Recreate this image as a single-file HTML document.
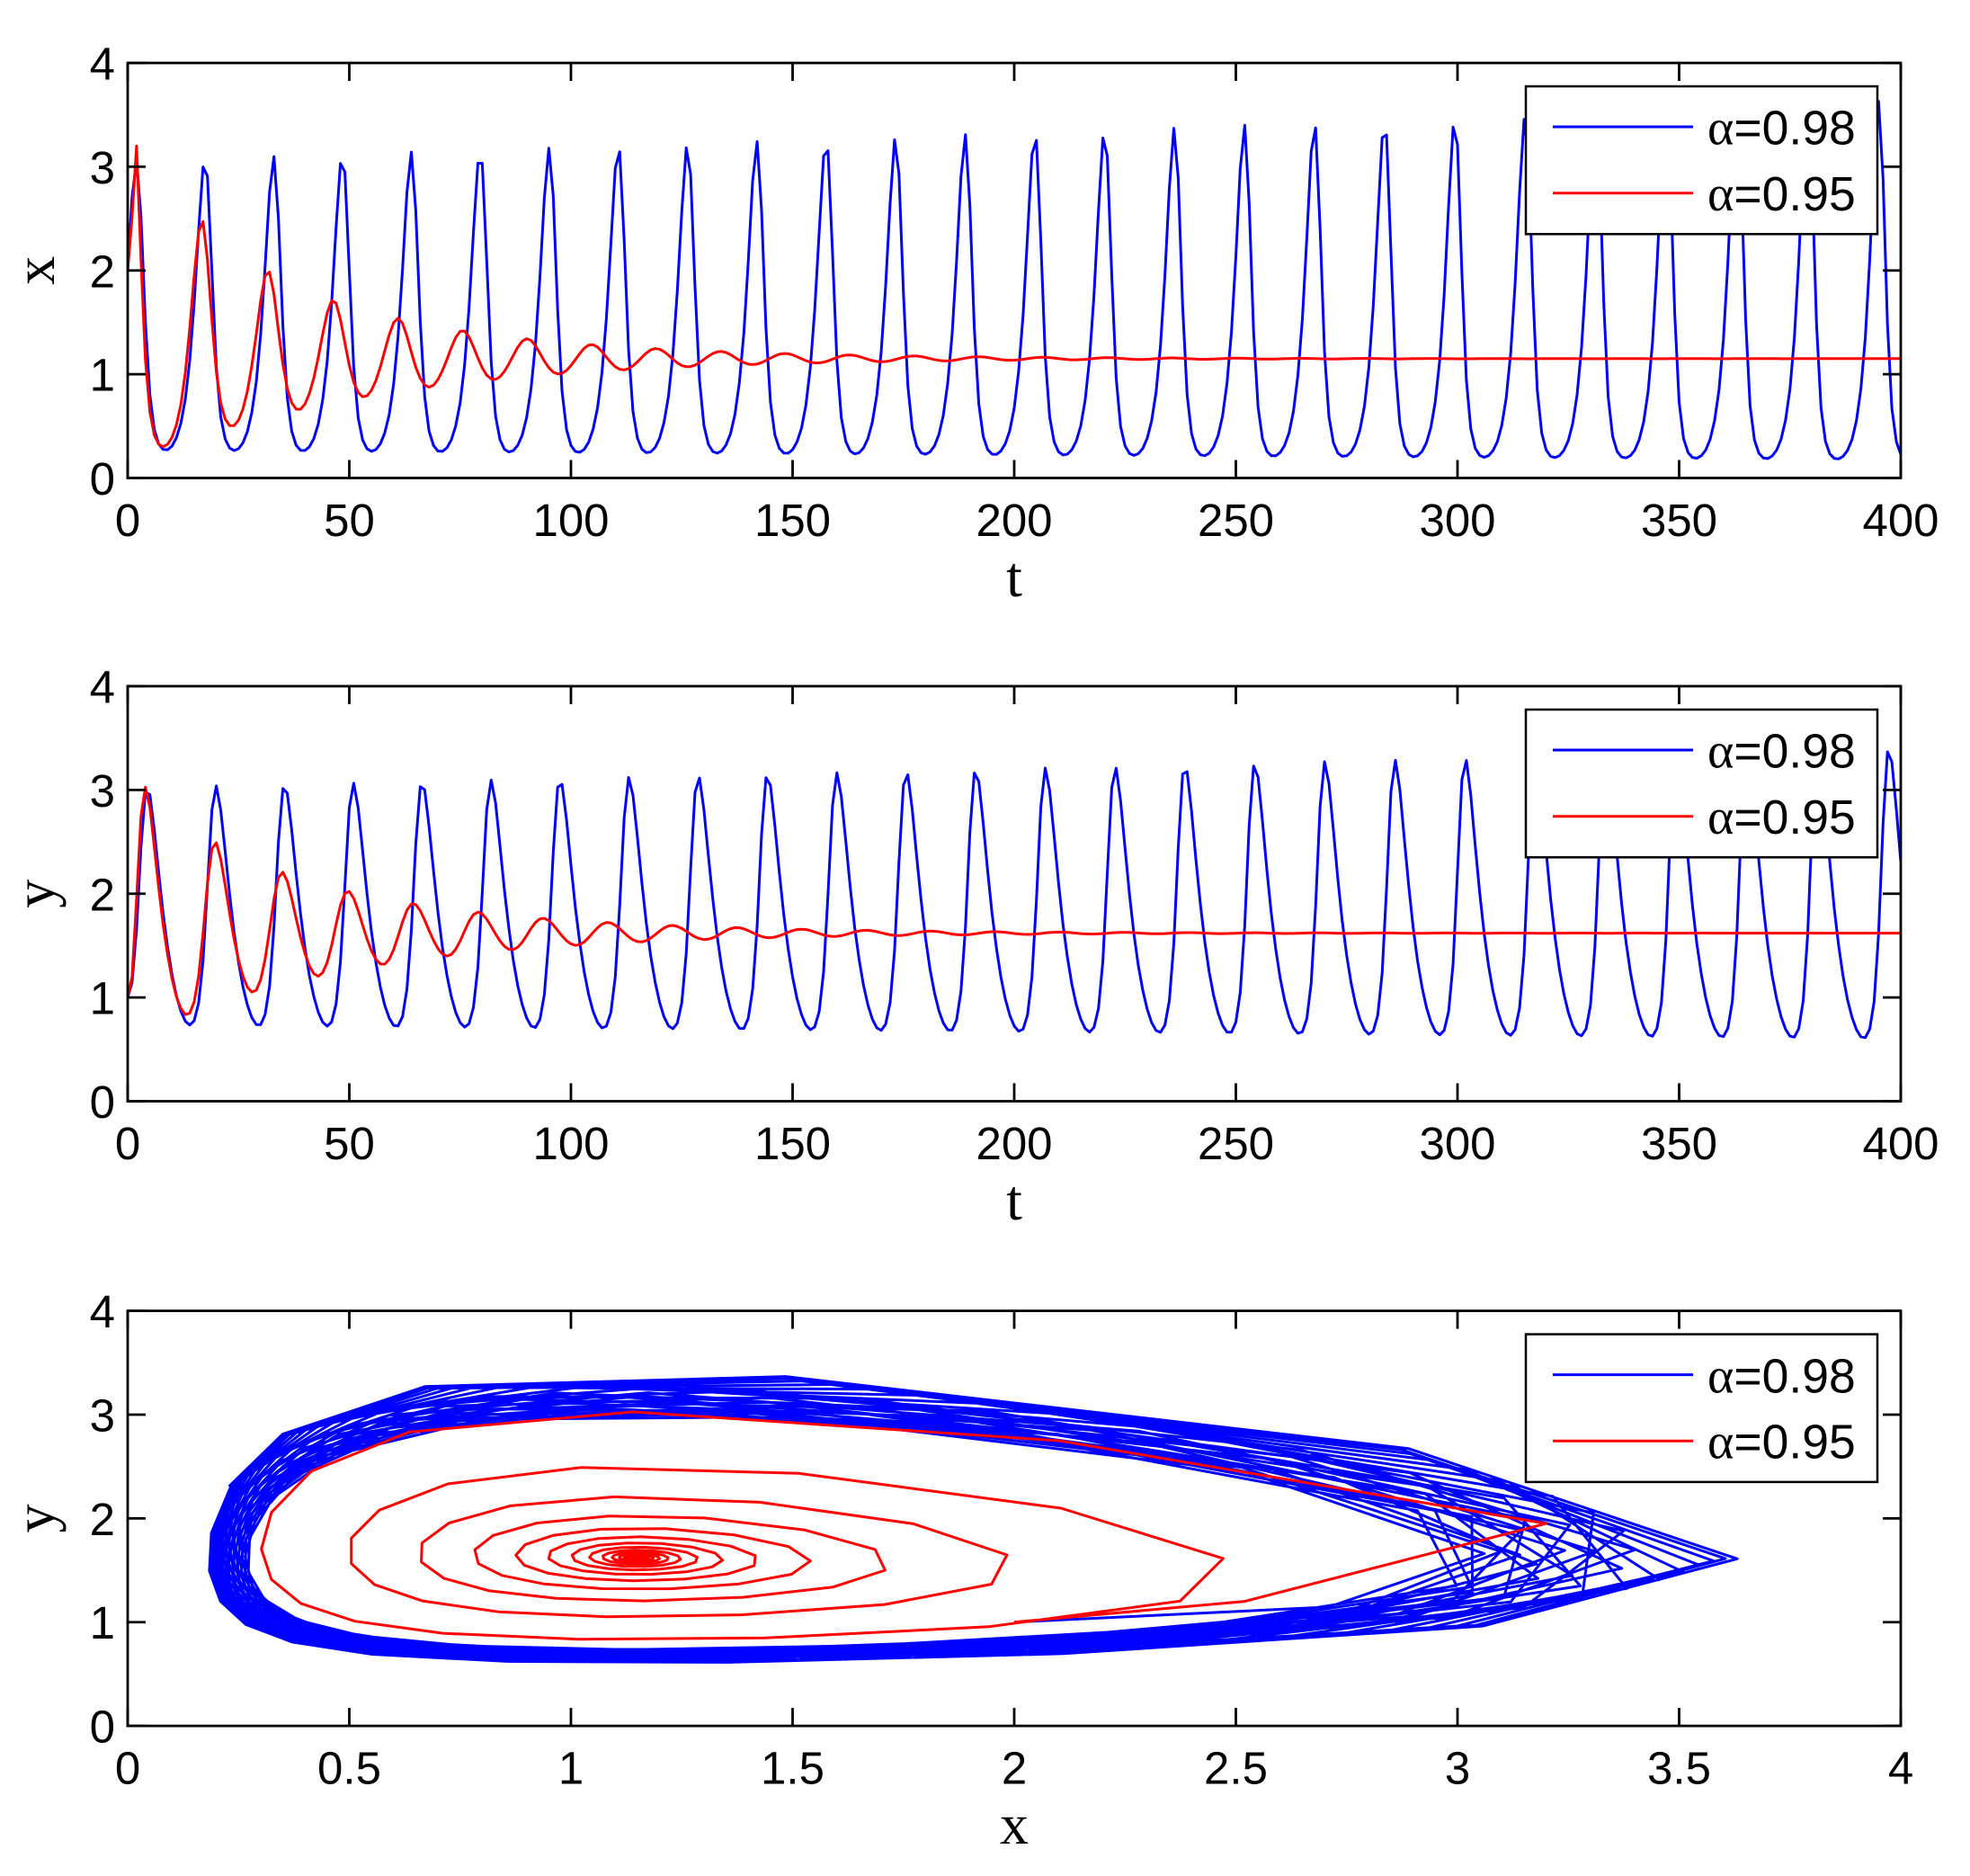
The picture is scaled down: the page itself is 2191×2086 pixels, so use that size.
<!DOCTYPE html>
<html><head><meta charset="utf-8"><style>html,body{margin:0;padding:0;background:#fff}svg{display:block}</style></head>
<body>
<svg id="s" xmlns="http://www.w3.org/2000/svg" width="2191" height="2086" viewBox="0 0 2191 2086">
<rect width="2191" height="2086" fill="#fff"/>
<defs>
<clipPath id="c1"><rect x="142" y="70" width="1972" height="461.5"/></clipPath>
<clipPath id="c2"><rect x="142" y="763" width="1972" height="461.5"/></clipPath>
<clipPath id="c3"><rect x="142" y="1457.6" width="1972" height="461.5"/></clipPath>
</defs>
<g id="data" fill="none" stroke-width="3" stroke-linejoin="round"></g>

<g fill="none" stroke="#000" stroke-width="2.8">
<rect x="142" y="70" width="1972" height="461.5"/>
<rect x="142" y="763" width="1972" height="461.5"/>
<rect x="142" y="1457.6" width="1972" height="461.5"/>
</g>
<g id="ticks" stroke="#000" stroke-width="2.8"></g>

<g font-family="Liberation Sans, Arial, sans-serif" font-size="51" fill="#000">
<g text-anchor="end">
<text x="128" y="88.5">4</text><text x="128" y="203.9">3</text><text x="128" y="319.3">2</text><text x="128" y="434.6">1</text><text x="128" y="550">0</text>
<text x="128" y="781.5">4</text><text x="128" y="896.9">3</text><text x="128" y="1012.3">2</text><text x="128" y="1127.6">1</text><text x="128" y="1243">0</text>
<text x="128" y="1476.1">4</text><text x="128" y="1591.5">3</text><text x="128" y="1706.9">2</text><text x="128" y="1822.2">1</text><text x="128" y="1937.6">0</text>
</g>
<g text-anchor="middle">
<text x="142" y="596">0</text><text x="388.5" y="596">50</text><text x="635" y="596">100</text><text x="881.5" y="596">150</text><text x="1128" y="596">200</text><text x="1374.5" y="596">250</text><text x="1621" y="596">300</text><text x="1867.5" y="596">350</text><text x="2114" y="596">400</text>
<text x="142" y="1289">0</text><text x="388.5" y="1289">50</text><text x="635" y="1289">100</text><text x="881.5" y="1289">150</text><text x="1128" y="1289">200</text><text x="1374.5" y="1289">250</text><text x="1621" y="1289">300</text><text x="1867.5" y="1289">350</text><text x="2114" y="1289">400</text>
<text x="142" y="1983.6">0</text><text x="388.5" y="1983.6">0.5</text><text x="635" y="1983.6">1</text><text x="881.5" y="1983.6">1.5</text><text x="1128" y="1983.6">2</text><text x="1374.5" y="1983.6">2.5</text><text x="1621" y="1983.6">3</text><text x="1867.5" y="1983.6">3.5</text><text x="2114" y="1983.6">4</text>
</g>
</g>

<g font-family="Liberation Serif, Times New Roman, serif" font-size="64" fill="#000" text-anchor="middle">
<text x="1128" y="663">t</text>
<text x="1128" y="1356">t</text>
<text x="1128" y="2050">x</text>
<text transform="translate(60,300.8) rotate(-90)">x</text>
<text transform="translate(60,993.8) rotate(-90)">y</text>
<text transform="translate(60,1688.4) rotate(-90)">y</text>
</g>

<g id="legends">
<g transform="translate(0,70)">
<rect x="1697" y="26" width="391" height="164.3" fill="#fff" stroke="#000" stroke-width="2.5"/>
<line x1="1727" y1="71" x2="1883" y2="71" stroke="#0000ff" stroke-width="3"/>
<line x1="1727" y1="144.7" x2="1883" y2="144.7" stroke="#ff0000" stroke-width="3"/>
<text x="1899" y="90.7" font-family="Liberation Sans, Arial, sans-serif" font-size="53.5"><tspan font-family="Liberation Serif, Times New Roman, serif" font-size="56">α</tspan>=0.98</text>
<text x="1899" y="164" font-family="Liberation Sans, Arial, sans-serif" font-size="53.5"><tspan font-family="Liberation Serif, Times New Roman, serif" font-size="56">α</tspan>=0.95</text>
</g>
<g transform="translate(0,763)">
<rect x="1697" y="26" width="391" height="164.3" fill="#fff" stroke="#000" stroke-width="2.5"/>
<line x1="1727" y1="71" x2="1883" y2="71" stroke="#0000ff" stroke-width="3"/>
<line x1="1727" y1="144.7" x2="1883" y2="144.7" stroke="#ff0000" stroke-width="3"/>
<text x="1899" y="90.7" font-family="Liberation Sans, Arial, sans-serif" font-size="53.5"><tspan font-family="Liberation Serif, Times New Roman, serif" font-size="56">α</tspan>=0.98</text>
<text x="1899" y="164" font-family="Liberation Sans, Arial, sans-serif" font-size="53.5"><tspan font-family="Liberation Serif, Times New Roman, serif" font-size="56">α</tspan>=0.95</text>
</g>
<g transform="translate(0,1457.6)">
<rect x="1697" y="26" width="391" height="164.3" fill="#fff" stroke="#000" stroke-width="2.5"/>
<line x1="1727" y1="71" x2="1883" y2="71" stroke="#0000ff" stroke-width="3"/>
<line x1="1727" y1="144.7" x2="1883" y2="144.7" stroke="#ff0000" stroke-width="3"/>
<text x="1899" y="90.7" font-family="Liberation Sans, Arial, sans-serif" font-size="53.5"><tspan font-family="Liberation Serif, Times New Roman, serif" font-size="56">α</tspan>=0.98</text>
<text x="1899" y="164" font-family="Liberation Sans, Arial, sans-serif" font-size="53.5"><tspan font-family="Liberation Serif, Times New Roman, serif" font-size="56">α</tspan>=0.95</text>
</g>
</g>
</svg>
<script>
(function(){
var NS="http://www.w3.org/2000/svg";
var L=142,W=1972,H=461.5,tops=[70,763,1457.6];
var tg=document.getElementById('ticks'),tl=20;
function ln(x1,y1,x2,y2){var e=document.createElementNS(NS,'line');e.setAttribute('x1',x1);e.setAttribute('y1',y1);e.setAttribute('x2',x2);e.setAttribute('y2',y2);tg.appendChild(e);}
for(var p=0;p<3;p++){
  var T=tops[p],B=T+H;
  for(var i=0;i<=8;i++){var X=L+W*i/8;ln(X,B,X,B-tl);ln(X,T,X,T+tl);}
  for(var j=0;j<=4;j++){var Y=B-H*j/4;ln(L,Y,L+tl,Y);ln(L+W,Y,L+W-tl,Y);}
}
function sim(q,x0,y0,N,t0){
  var x=x0,y=y0,X=[x],Y=[y],sub=50,h=1/sub,t=t0;
  function f(x,y,t){return [x*(q.a-q.b*y+q.e(t)*(x-q.xs)), y*(q.d*x-q.c)];}
  for(var n=1;n<=N;n++){
    for(var s=0;s<sub;s++){
      var k1=f(x,y,t),k2=f(x+h/2*k1[0],y+h/2*k1[1],t+h/2),k3=f(x+h/2*k2[0],y+h/2*k2[1],t+h/2),k4=f(x+h*k3[0],y+h*k3[1],t+h);
      x+=h/6*(k1[0]+2*k2[0]+2*k3[0]+k4[0]);y+=h/6*(k1[1]+2*k2[1]+2*k3[1]+k4[1]);t+=h;
    }
    X.push(x);Y.push(y);
  }
  return [X,Y];
}
// blue
var by0=0.84;
var blue=sim({a:0.7355,b:0.454,c:0.261,d:0.227,e:function(t){return 0.0009;},xs:1.15},2,by0,400,0);
for(var i=0;i<2;i++){blue[1][i]+=(1-by0)*Math.pow(1-i/2,2);}
// red
var dr=0.224;
var red=sim({a:3.24*dr,b:2*dr,c:1.15*dr,d:dr,e:function(t){return -(0.039+0.016*Math.exp(-t/20));},xs:1.15},3.2,1.95,398,2);
red[0].unshift(2.52);red[1].unshift(1.2);
red[0].unshift(2);red[1].unshift(1);
var dg=document.getElementById('data');
function path(pts,col,clip){
  var d='';for(var i=0;i<pts.length;i++){d+=(i?'L':'M')+pts[i][0].toFixed(1)+' '+pts[i][1].toFixed(1);}
  var e=document.createElementNS(NS,'path');e.setAttribute('d',d);e.setAttribute('stroke',col);e.setAttribute('clip-path','url(#'+clip+')');dg.appendChild(e);
}
function ts(S,k,p){var T=tops[p],B=T+H,pts=[];for(var i=0;i<S[k].length;i++){pts.push([L+W*i/400,B-H*S[k][i]/4]);}return pts;}
function ph(S){var B=tops[2]+H,pts=[];for(var i=0;i<S[0].length;i++){pts.push([L+W*S[0][i]/4,B-H*S[1][i]/4]);}return pts;}
path(ts(blue,0,0),'#0000ff','c1');path(ts(red,0,0),'#ff0000','c1');
path(ts(blue,1,1),'#0000ff','c2');path(ts(red,1,1),'#ff0000','c2');
path(ph(blue),'#0000ff','c3');path(ph(red),'#ff0000','c3');
})();
</script>
</body></html>
